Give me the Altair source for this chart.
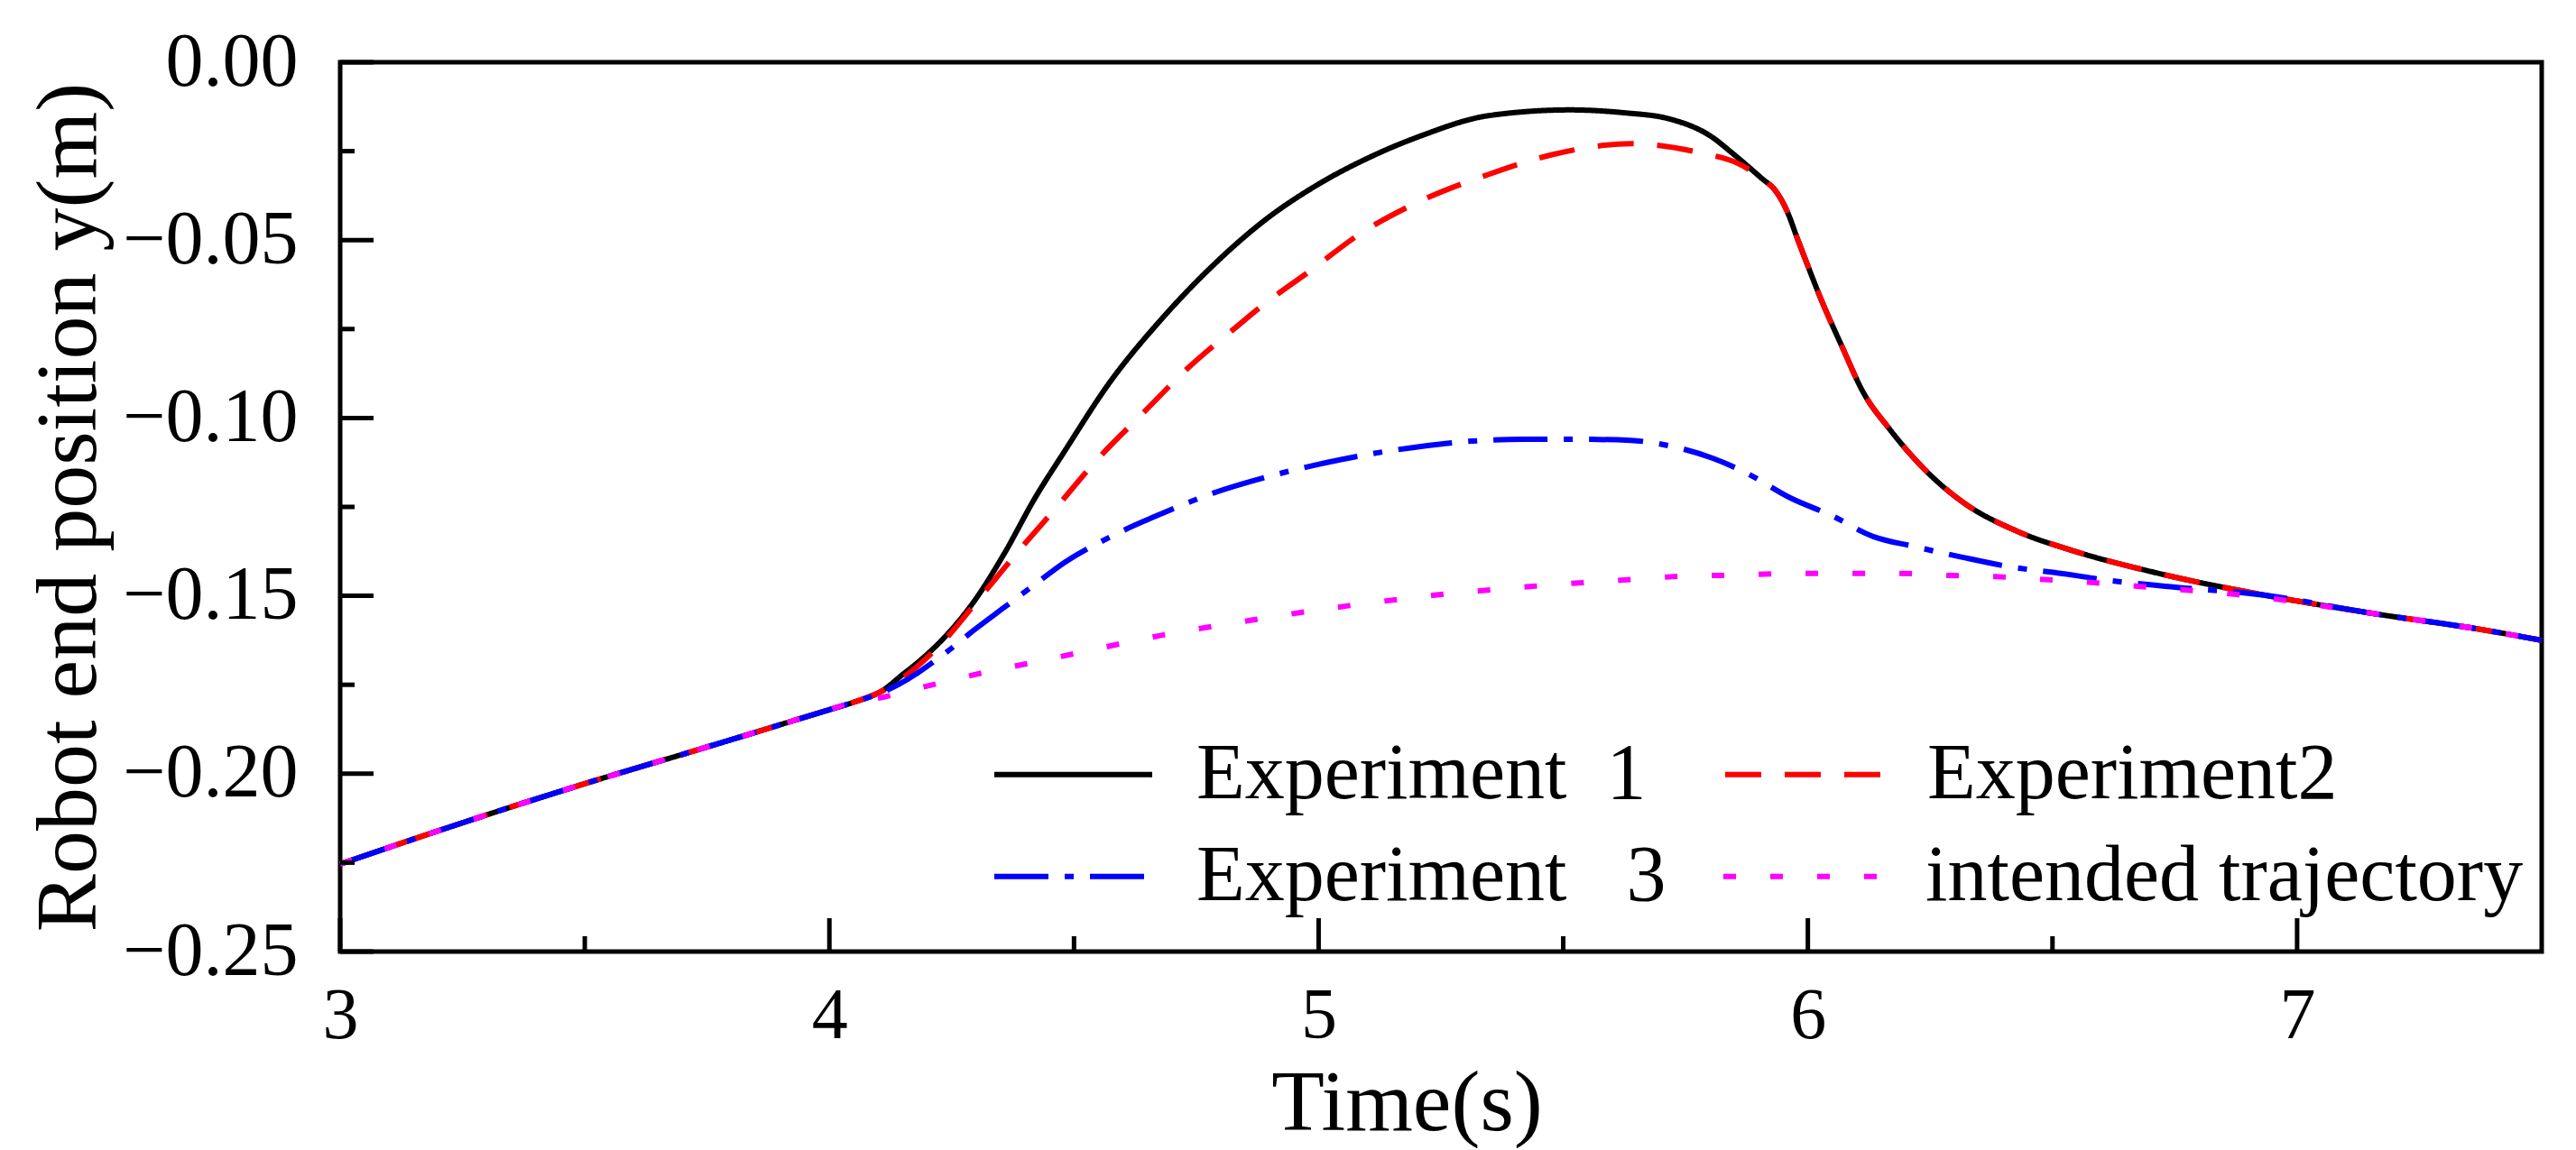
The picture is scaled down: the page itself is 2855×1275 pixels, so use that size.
import altair as alt
import pandas as pd

EXP1, EXP2, EXP3, PLAN = "Experiment\u00a0\u00a01", "Experiment2", "Experiment\u00a0\u00a0\u00a03", "intended trajectory"
ROW1 = [EXP1, EXP2]
ROW2 = [EXP3, PLAN]
COLORS = {EXP1: "#000000", EXP2: "#FF0000", EXP3: "#0000FF", PLAN: "#FF00FF"}
DASHES = {EXP1: [1, 0], EXP2: [40, 26], EXP3: [60, 18, 10, 18], PLAN: [14, 38]}

# shared start of all four runs
common_t = [3.0, 3.25, 3.5, 3.75, 4.0, 4.05]
common_y = [-0.2254, -0.2138, -0.2028, -0.1925, -0.1820, -0.1799]

# Experiment 1
exp1_t = [4.11, 4.149, 4.18, 4.235, 4.296, 4.358, 4.419, 4.481, 4.573, 4.679, 4.785, 4.891,
          4.997, 5.103, 5.209, 5.348, 5.514, 5.624, 5.716, 5.808, 5.839, 5.882, 5.907,
          5.932, 5.957, 5.98, 5.999, 6.023, 6.072, 6.112, 6.168, 6.236, 6.314, 6.427,
          6.539, 6.708, 6.933, 7.157, 7.382, 7.5]
exp1_y = [-0.1765, -0.1722, -0.1688, -0.1617, -0.1515, -0.1380, -0.1228, -0.1093, -0.0900,
          -0.0722, -0.0570, -0.0443, -0.0345, -0.0268, -0.0207, -0.0150, -0.0134, -0.0142,
          -0.0159, -0.0214, -0.0248, -0.0298, -0.0328, -0.0358, -0.0417, -0.0501, -0.0569,
          -0.0653, -0.0806, -0.0925, -0.1033, -0.1141, -0.1234, -0.1318, -0.1372, -0.1434,
          -0.1498, -0.1550, -0.1596, -0.1625]

# Experiment 2
exp2_t = [4.11, 4.235, 4.309, 4.383, 4.463, 4.548, 4.642, 4.731, 4.831, 4.884, 4.984,
          5.084, 5.199, 5.348, 5.477, 5.64, 5.785, 5.858, 5.907, 5.932, 5.957, 5.98,
          5.999, 6.023, 6.072, 6.112, 6.168, 6.236, 6.314, 6.427, 6.539, 6.708, 6.933,
          7.157, 7.382, 7.5]
exp2_y = [-0.1766, -0.1625, -0.1503, -0.1380, -0.1253, -0.1116, -0.0985, -0.0862, -0.0745,
          -0.0685, -0.0585, -0.0483, -0.0396, -0.0315, -0.0260, -0.0229, -0.0256, -0.0285,
          -0.0328, -0.0358, -0.0417, -0.0501, -0.0569, -0.0653, -0.0806, -0.0925, -0.1033,
          -0.1141, -0.1234, -0.1318, -0.1372, -0.1434, -0.1498, -0.1550, -0.1596, -0.1625]

# Experiment 3
exp3_t = [4.11, 4.143, 4.235, 4.296, 4.358, 4.419, 4.481, 4.573, 4.679, 4.785, 4.891,
          4.997, 5.103, 5.209, 5.314, 5.42, 5.53, 5.637, 5.716, 5.809, 5.876, 5.966,
          6.045, 6.135, 6.213, 6.314, 6.416, 6.517, 6.618, 6.73, 6.933, 7.157, 7.382, 7.5]
exp3_y = [-0.1770, -0.1748, -0.1663, -0.1596, -0.1532, -0.1469, -0.1406, -0.1335, -0.1269,
          -0.1211, -0.1167, -0.1131, -0.1102, -0.1080, -0.1065, -0.1060, -0.1060, -0.1063,
          -0.1078, -0.1115, -0.1156, -0.1226, -0.1272, -0.1334, -0.1360, -0.1391, -0.1419,
          -0.1437, -0.1457, -0.1473, -0.1498, -0.1550, -0.1596, -0.1625]

# intended trajectory
plan_t = [4.11, 4.155, 4.244, 4.321, 4.41, 4.499, 4.679, 4.869, 5.06, 5.259, 5.439, 5.64,
          5.757, 5.854, 5.966, 6.079, 6.185, 6.292, 6.382, 6.472, 6.573, 6.674, 6.775,
          6.876, 7.157, 7.382, 7.5]
plan_y = [-0.1785, -0.1769, -0.1739, -0.1714, -0.1689, -0.1663, -0.1611, -0.1567, -0.1528,
          -0.1495, -0.1473, -0.1454, -0.1444, -0.1442, -0.1437, -0.1437, -0.1437, -0.1443,
          -0.1446, -0.1453, -0.1462, -0.1473, -0.1484, -0.1496, -0.1550, -0.1596, -0.1625]

x_major = [3, 4, 5, 6, 7]
x_minor = [3.5, 4.5, 5.5, 6.5]
y_major = [0.0, -0.05, -0.10, -0.15, -0.20, -0.25]
y_minor = [-0.025, -0.075, -0.125, -0.175, -0.225]

W, H = 2440, 986
FONT = "Liberation Serif"
X_TITLE = "Time(s)"
Y_TITLE = "Robot end position  y(m)"

series_data = {EXP1: (exp1_t, exp1_y), EXP2: (exp2_t, exp2_y),
               EXP3: (exp3_t, exp3_y), PLAN: (plan_t, plan_y)}


def series_frame(names):
    frames = []
    for name in names:
        t, y = series_data[name]
        frames.append(pd.DataFrame({"t": common_t + t, "y": common_y + y, "series": name,
                                    "order": range(len(common_t) + len(t))}))
    return pd.concat(frames, ignore_index=True)


x_scale = alt.Scale(domain=[3, 7.5], nice=False, zero=False)
y_scale = alt.Scale(domain=[-0.25, 0.0], nice=False, zero=False)

x_axis = alt.Axis(values=x_major, format="d", ticks=False, domain=False, grid=False,
                  labelFont=FONT, labelFontSize=80, labelColor="black", labelPadding=32,
                  labelFlush=False, titleX=1182,
                  titleFont=FONT, titleFontSize=96, titleFontWeight="normal",
                  titleColor="black", titlePadding=10)
y_axis = alt.Axis(values=y_major, format=".2f", ticks=False, domain=False, grid=False,
                  labelFont=FONT, labelFontSize=84, labelColor="black", labelPadding=47,
                  labelLimit=400, labelFlush=False,
                  titleFont=FONT, titleFontSize=96, titleFontWeight="normal",
                  titleColor="black", titlePadding=52)


def legend_row(y_pos, col_pad):
    return alt.Legend(title=None, orient="none", legendX=722, legendY=y_pos, columns=2,
                      symbolType="stroke", symbolSize=175 ** 2, symbolStrokeWidth=6,
                      labelFont=FONT, labelFontSize=88, labelColor="black", labelLimit=2000,
                      labelOffset=46, columnPadding=col_pad, padding=0)


def line_layer(names, legend, with_axes):
    colour = alt.Scale(domain=names, range=[COLORS[n] for n in names])
    dash = alt.Scale(domain=names, range=[DASHES[n] for n in names])
    x_kw = {"axis": x_axis} if with_axes else {}
    y_kw = {"axis": y_axis} if with_axes else {}
    return alt.Chart(series_frame(names)).mark_line(strokeWidth=6, interpolate="monotone").encode(
        x=alt.X("t:Q", scale=x_scale, title=X_TITLE, **x_kw),
        y=alt.Y("y:Q", scale=y_scale, title=Y_TITLE, **y_kw),
        color=alt.Color("series:N", scale=colour, legend=legend),
        strokeDash=alt.StrokeDash("series:N", scale=dash, legend=legend),
        order="order:Q",
    )


def tick_rules(values, length, vertical):
    """Inward tick marks drawn as short rules on the bottom or left edge."""
    if vertical:
        base = alt.Chart(pd.DataFrame({"t": values})).mark_rule(color="black", strokeWidth=5)
        return base.encode(x=alt.X("t:Q", scale=x_scale, title=X_TITLE),
                           y=alt.value(H), y2=alt.value(H - length))
    base = alt.Chart(pd.DataFrame({"y": values})).mark_rule(color="black", strokeWidth=5)
    return base.encode(y=alt.Y("y:Q", scale=y_scale, title=Y_TITLE),
                       x=alt.value(0), x2=alt.value(length))


chart = alt.layer(
    line_layer(ROW1, legend_row(699, 75), True),
    line_layer(ROW2, legend_row(812, 51), False),
    tick_rules(x_major, 37, True),
    tick_rules(x_minor, 17, True),
    tick_rules(y_major, 37, False),
    tick_rules(y_minor, 16, False),
).resolve_scale(
    color="independent", strokeDash="independent"
).properties(
    width=W, height=H,
    autosize=alt.AutoSizeParams(type="none"),
    padding={"left": 369, "top": 61, "right": 30, "bottom": 220},
).configure_view(stroke="black", strokeWidth=5)

chart.save("out.html", embed_options={"renderer": "svg", "actions": False})
